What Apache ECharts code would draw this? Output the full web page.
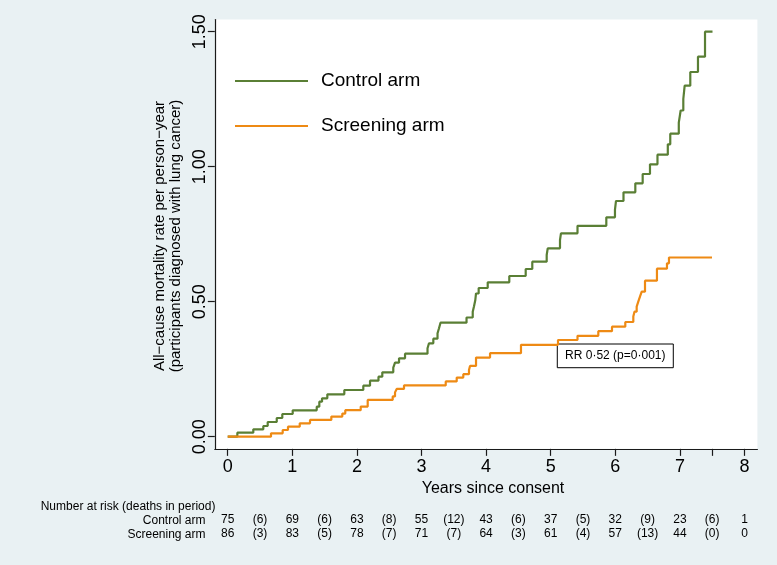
<!DOCTYPE html>
<html><head><meta charset="utf-8">
<script src="https://cdn.jsdelivr.net/npm/echarts@6/dist/echarts.min.js"></script>
<style>html,body{margin:0;padding:0;background:#E9F1F3;}#c{width:777px;height:565px;}</style>
</head><body><div id="c"></div>
<script>
// ---- data ----
const seriesNames = ['Control arm', 'Screening arm'];
const controlTimes = [0, 0.149, 0.396, 0.551, 0.619, 0.759, 0.845, 1.006, 1.378, 1.418, 1.460, 1.542, 1.805,
  2.099, 2.203, 2.334, 2.393, 2.563, 2.590, 2.652, 2.745, 3.093, 3.116, 3.183, 3.248, 3.271, 3.294, 3.697, 3.793,
  3.813, 3.833, 3.844, 3.885, 4.025, 4.359, 4.613, 4.715, 4.938, 4.954, 5.144, 5.159, 5.415, 5.861, 5.995, 6.011,
  6.127, 6.310, 6.424, 6.537, 6.653, 6.813, 6.851, 6.983, 7.012, 7.053, 7.074, 7.161, 7.280, 7.389, 7.505];
const controlRates = [0, 0.0148, 0.0274, 0.0396, 0.0544, 0.0693, 0.0841, 0.0978, 0.1111, 0.1296, 0.1422, 0.1570, 0.1730,
  0.1889, 0.2074, 0.2222, 0.2385, 0.2556, 0.2741, 0.2904, 0.3074, 0.3274, 0.3459, 0.3630, 0.3830, 0.4015, 0.4222, 0.4415, 0.4630,
  0.4830, 0.5063, 0.5304, 0.5507, 0.5719, 0.5952, 0.6211, 0.6481, 0.6730, 0.6978, 0.7285, 0.7533, 0.7811, 0.8126, 0.8407, 0.8730,
  0.9052, 0.9385, 0.9730, 1.0089, 1.0444, 1.0830, 1.1222, 1.1630, 1.2081, 1.2507, 1.3000, 1.3507, 1.4074, 1.5000, 1.5000];
const screeningTimes = [0, 0.670, 0.851, 0.933, 1.115, 1.274, 1.604, 1.774, 1.820, 2.059, 2.167, 2.554, 2.590, 2.616, 2.729,
  3.375, 3.545, 3.647, 3.735, 3.751, 3.844, 4.061, 4.540, 5.113, 5.415, 5.737, 5.949, 6.155, 6.279, 6.297, 6.331, 6.356,
  6.382, 6.409, 6.460, 6.645, 6.800, 6.831, 7.497];
const screeningRates = [0, 0.0126, 0.0248, 0.0370, 0.0496, 0.0622, 0.0744, 0.0856, 0.0981, 0.1115, 0.1363, 0.1493, 0.1641, 0.1770, 0.1900,
  0.2048, 0.2189, 0.2315, 0.2474, 0.2622, 0.2930, 0.3093, 0.3404, 0.3581, 0.3737, 0.3907, 0.4074, 0.4248, 0.4452, 0.4630, 0.4815, 0.5000,
  0.5185, 0.5370, 0.5778, 0.6222, 0.6422, 0.6637, 0.6637];
const xTickLabels = [0, 1, 2, 3, 4, 5, 6, 7, 8];
const xTickMarks = [0, 1, 2, 3, 4, 5, 6, 7, 7.5, 8];
const yTickLabels = [0, 0.5, 1, 1.5];
const riskTimes = [0, 0.5, 1, 1.5, 2, 2.5, 3, 3.5, 4, 4.5, 5, 5.5, 6, 6.5, 7, 7.5, 8];
const controlAtRisk = [75, 69, 63, 55, 43, 37, 32, 23, 1];
const controlDeaths = [6, 6, 8, 12, 6, 5, 9, 6];
const screeningAtRisk = [86, 83, 78, 71, 64, 61, 57, 44, 0];
const screeningDeaths = [3, 5, 7, 7, 3, 4, 13, 0];
const tableTitle = 'Number at risk (deaths in period)';
const yTitle = 'All\u2212cause mortality rate per person\u2212year\n(participants diagnosed with lung cancer)';
const xTitle = 'Years since consent';
const rrText = 'RR 0\u00b752 (p=0\u00b7001)';
const rrAnchor = [5.102, 0.3433];

// ---- style ----
const FONT = '"Liberation Sans", Arial, Helvetica, sans-serif';
const GREEN = '#5A7F35';
const ORANGE = '#EE8A14';
const AXIS = '#1a1a1a';
const XMIN = -0.2, XMAX = 8.2, YMIN = -0.045, YMAX = 1.545;

function zip(a, b) { return a.map((v, i) => [v, b[i]]); }
function riskFormatter(atRisk, deaths) {
  return function (v) {
    const k = Math.round(v * 2);
    return k % 2 === 0 ? String(atRisk[k / 2]) : '(' + deaths[(k - 1) / 2] + ')';
  };
}
function tableAxis(offset, atRisk, deaths) {
  return {
    type: 'value', gridIndex: 0, min: XMIN, max: XMAX, position: 'bottom', offset: offset,
    axisLine: { show: false, onZero: false }, axisTick: { show: false }, splitLine: { show: false },
    axisLabel: { customValues: riskTimes, margin: 0, fontSize: 12, fontFamily: FONT, color: '#000',
      formatter: riskFormatter(atRisk, deaths) }
  };
}

const chart = echarts.init(document.getElementById('c'), null, { renderer: 'canvas' });
chart.setOption({
  animation: false,
  backgroundColor: '#E9F1F3',
  textStyle: { fontFamily: FONT },
  grid: { left: 214.8, right: 19.6, top: 19.55, bottom: 116.15, show: true, backgroundColor: '#ffffff',
    borderWidth: 0, containLabel: false, outerBoundsMode: 'none' },
  legend: {
    data: seriesNames, orient: 'vertical', left: 230, top: 65, icon: 'rect', itemWidth: 73, itemHeight: 2,
    itemGap: 23, textStyle: { fontSize: 19, color: '#000', fontFamily: FONT, lineHeight: 22, padding: [0, 0, 0, 8] },
    selectedMode: false
  },
  xAxis: [
    { type: 'value', gridIndex: 0, min: XMIN, max: XMAX, position: 'bottom',
      axisLine: { show: true, onZero: false, lineStyle: { color: AXIS, width: 1.2 } },
      axisTick: { show: true, length: 7, customValues: xTickMarks, lineStyle: { color: AXIS, width: 1.2 } },
      axisLabel: { customValues: xTickLabels, margin: 9, fontSize: 18, fontFamily: FONT, color: '#000' },
      splitLine: { show: false } },
    tableAxis(64.6, controlAtRisk, controlDeaths),
    tableAxis(79.2, screeningAtRisk, screeningDeaths)
  ],
  yAxis: [
    { type: 'value', gridIndex: 0, min: YMIN, max: YMAX, position: 'left',
      axisLine: { show: true, onZero: false, lineStyle: { color: AXIS, width: 1.2 } },
      axisTick: { show: true, length: 7, customValues: yTickLabels, lineStyle: { color: AXIS, width: 1.2 } },
      axisLabel: { customValues: yTickLabels, rotate: 90, margin: 6, fontSize: 18, fontFamily: FONT, color: '#000',
        formatter: v => v.toFixed(2) },
      splitLine: { show: false } }
  ],
  series: [
    { name: seriesNames[0], type: 'line', step: 'end', showSymbol: false, symbol: 'none',
      data: zip(controlTimes, controlRates), lineStyle: { color: GREEN, width: 2.2 }, itemStyle: { color: GREEN } },
    { name: seriesNames[1], type: 'line', step: 'end', showSymbol: false, symbol: 'none',
      data: zip(screeningTimes, screeningRates), lineStyle: { color: ORANGE, width: 2.2 }, itemStyle: { color: ORANGE } }
  ]
});

const p = chart.convertToPixel({ gridIndex: 0 }, rrAnchor);
chart.setOption({
  graphic: [
    { type: 'text', x: 168, y: 236, rotation: Math.PI / 2,
      style: { text: yTitle, fontSize: 15, fontFamily: FONT, fill: '#000', align: 'center', verticalAlign: 'middle', lineHeight: 16 } },
    { type: 'text', x: 493, y: 489,
      style: { text: xTitle, fontSize: 16, fontFamily: FONT, fill: '#000', align: 'center', verticalAlign: 'middle' } },
    { type: 'text', x: 40.7, y: 506.5,
      style: { text: tableTitle, fontSize: 12, fontFamily: FONT, fill: '#000', align: 'left', verticalAlign: 'middle' } },
    { type: 'text', x: 205.5, y: 520.5,
      style: { text: seriesNames[0], fontSize: 12, fontFamily: FONT, fill: '#000', align: 'right', verticalAlign: 'middle' } },
    { type: 'text', x: 205.5, y: 535,
      style: { text: seriesNames[1], fontSize: 12, fontFamily: FONT, fill: '#000', align: 'right', verticalAlign: 'middle' } },
    { type: 'group', x: p[0], y: p[1], z: 100, children: [
      { type: 'rect', shape: { x: 0, y: 0, width: 116, height: 23.7 }, style: { fill: '#fff', stroke: '#000', lineWidth: 1 } },
      { type: 'text', x: 58, y: 12, style: { text: rrText, fontSize: 12, fontFamily: FONT, fill: '#000', align: 'center', verticalAlign: 'middle' } }
    ] }
  ]
});
</script>
</body></html>
